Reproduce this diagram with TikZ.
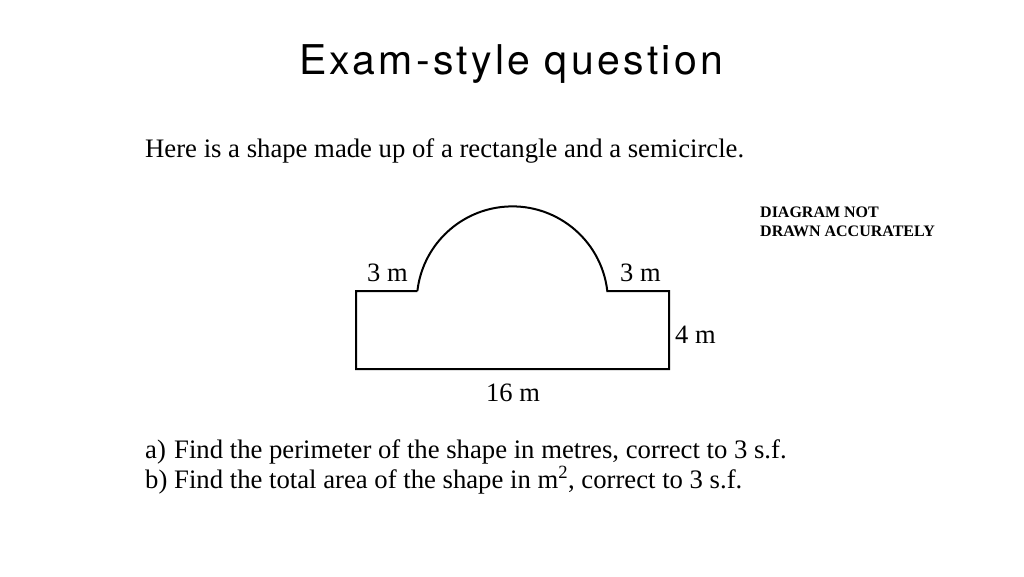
\documentclass[tikz,border=0pt]{standalone}
\usepackage{fontspec}
\setmainfont{Liberation Serif}
\newfontfamily\titlefont[LetterSpace=8]{TeX Gyre Heros}
\begin{document}
\begin{tikzpicture}[x=1pt,y=-1pt,
  body/.style={inner sep=0pt,anchor=base west,font=\fontsize{26.7}{30}\selectfont},
  lbl/.style={inner sep=0pt,anchor=base west,font=\fontsize{26.5}{30}\selectfont},
  shapeline/.style={line width=2pt,line join=miter}]
\useasboundingbox (0,0) rectangle (1024,576);
\node[inner sep=0pt,anchor=base,font=\titlefont\fontsize{41}{46}\selectfont] (title) at (511,74) {Exam-style question};
\node[body] (intro) at (145,157) {Here is a shape made up of a rectangle and a semicircle.};
\node[inner sep=0pt,anchor=north west,align=left,font=\bfseries\fontsize{16}{19}\selectfont] (note) at (760,207) {DIAGRAM NOT\\DRAWN ACCURATELY};
% shape
\coordinate (A) at (356,291);
\coordinate (B) at (417.3,291);
\coordinate (C) at (607.3,291);
\coordinate (D) at (669,291);
\coordinate (E) at (669,369);
\coordinate (F) at (356,369);
\draw[shapeline] (B) -- (A) -- (F) -- (E) -- (D) -- (C)
  arc[start angle=6.6,end angle=173.4,x radius=95.6,y radius=-95.6];
\node[lbl] (l3a) at (367,281) {3 m};
\node[lbl] (l3b) at (620,281) {3 m};
\node[lbl] (l4) at (675,343) {4 m};
\node[lbl] (l16) at (486,401) {16 m};
\node[body] (qa) at (145,458) {\makebox[29pt][l]{a)}Find the perimeter of the shape in metres, correct to 3 s.f.};
\node[body] (qb) at (145,488) {\makebox[29pt][l]{b)}Find the total area of the shape in m\textsuperscript{2}, correct to 3 s.f.};
\end{tikzpicture}
\end{document}
